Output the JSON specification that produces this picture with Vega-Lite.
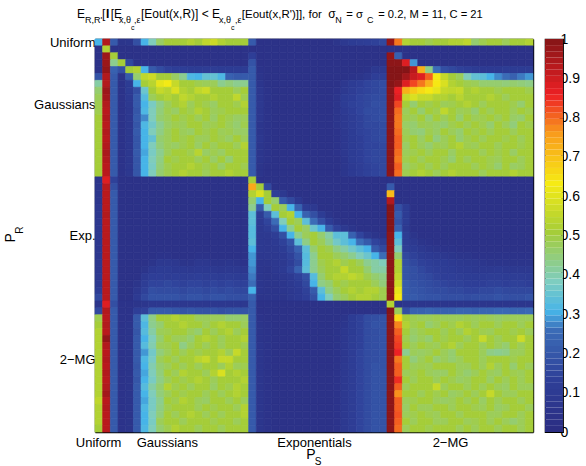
{"$schema":"https://vega.github.io/schema/vega-lite/v6.json","background":"white","padding":{"left":4,"top":7,"right":0,"bottom":0},
"config":{"font":"Liberation Sans","view":{"stroke":null},"axis":{"grid":false,"domainColor":"black","tickColor":"black","domainWidth":1.4,"tickWidth":1,"labelColor":"black","labelFont":"Liberation Sans","labelFontSize":13,"title":null}},
"datasets":{"cells":[
0.3,0.93,0.2,0.05,0.06,0.17,0.3,0.38,0.46,0.5,0.5,0.5,0.52,0.5,0.54,0.56,0.52,0.5,0.5,0.5,0.2,0.03,0.03,0.03,0.03,0.03,0.03,0.03,0.03,0.03,0.03,0.05,0.08,0.1,0.11,0.12,0.13,0.15,0.97,0.78,0.52,0.5,0.5,0.48,0.5,0.5,0.52,0.52,0.54,0.45,0.48,0.5,0.5,0.47,0.5,0.5,0.52,
0.03,0.52,0.03,0.03,0.03,0.03,0.03,0.03,0.03,0.03,0.03,0.03,0.03,0.03,0.03,0.03,0.03,0.03,0.03,0.03,0.03,0.03,0.03,0.03,0.03,0.03,0.03,0.03,0.03,0.03,0.03,0.03,0.03,0.03,0.03,0.03,0.03,0.03,0.03,0.03,0.03,0.03,0.03,0.03,0.03,0.03,0.03,0.03,0.03,0.03,0.03,0.03,0.03,0.03,0.03,0.03,0.03,
0.03,0.96,0.5,0.03,0.03,0.03,0.03,0.03,0.03,0.03,0.03,0.03,0.03,0.03,0.03,0.03,0.03,0.03,0.03,0.03,0.12,0.03,0.03,0.03,0.03,0.03,0.03,0.03,0.03,0.03,0.03,0.03,0.03,0.03,0.03,0.03,0.03,0.03,0.97,0.22,0.03,0.03,0.03,0.03,0.03,0.03,0.03,0.03,0.03,0.03,0.03,0.03,0.03,0.03,0.03,0.03,0.03,
0.03,0.96,0.42,0.5,0.15,0.04,0.04,0.03,0.03,0.03,0.03,0.03,0.03,0.03,0.03,0.03,0.03,0.03,0.03,0.03,0.18,0.03,0.03,0.03,0.03,0.03,0.03,0.03,0.03,0.03,0.03,0.03,0.03,0.03,0.03,0.03,0.03,0.03,0.98,0.98,0.87,0.28,0.03,0.03,0.03,0.03,0.03,0.03,0.03,0.03,0.03,0.03,0.03,0.03,0.03,0.03,0.03,
0.03,0.97,0.22,0.17,0.5,0.52,0.3,0.2,0.16,0.13,0.12,0.12,0.1,0.1,0.11,0.11,0.1,0.1,0.1,0.1,0.2,0.04,0.03,0.03,0.03,0.03,0.03,0.03,0.03,0.03,0.03,0.03,0.03,0.03,0.03,0.04,0.08,0.08,0.99,0.99,0.99,0.92,0.72,0.43,0.25,0.17,0.15,0.13,0.12,0.1,0.09,0.09,0.09,0.1,0.1,0.1,0.1,
0.18,0.93,0.2,0.04,0.2,0.45,0.54,0.56,0.5,0.5,0.46,0.42,0.31,0.3,0.34,0.34,0.31,0.22,0.2,0.2,0.2,0.05,0.03,0.03,0.03,0.03,0.03,0.03,0.03,0.03,0.03,0.03,0.03,0.04,0.05,0.07,0.12,0.12,0.99,0.99,0.95,0.9,0.87,0.8,0.62,0.55,0.5,0.47,0.38,0.34,0.33,0.3,0.27,0.25,0.22,0.26,0.28,
0.4,0.93,0.2,0.04,0.1,0.3,0.5,0.53,0.6,0.62,0.55,0.5,0.5,0.48,0.47,0.47,0.42,0.44,0.42,0.42,0.2,0.06,0.03,0.03,0.03,0.03,0.03,0.03,0.03,0.03,0.03,0.03,0.07,0.1,0.12,0.14,0.15,0.16,0.99,0.97,0.87,0.82,0.78,0.72,0.63,0.58,0.52,0.5,0.48,0.47,0.45,0.45,0.45,0.44,0.45,0.44,0.43,
0.45,0.96,0.2,0.04,0.1,0.17,0.35,0.5,0.55,0.53,0.58,0.52,0.5,0.54,0.56,0.5,0.5,0.5,0.47,0.5,0.2,0.07,0.04,0.03,0.03,0.03,0.03,0.03,0.03,0.03,0.03,0.04,0.08,0.11,0.13,0.14,0.15,0.16,0.98,0.85,0.72,0.68,0.65,0.63,0.6,0.55,0.54,0.55,0.5,0.52,0.5,0.5,0.48,0.5,0.5,0.5,0.48,
0.47,0.95,0.2,0.04,0.09,0.2,0.32,0.47,0.5,0.52,0.5,0.54,0.52,0.5,0.5,0.52,0.5,0.5,0.54,0.48,0.2,0.07,0.04,0.03,0.03,0.03,0.03,0.03,0.03,0.03,0.03,0.05,0.1,0.12,0.14,0.15,0.16,0.16,0.98,0.87,0.55,0.58,0.55,0.55,0.52,0.52,0.5,0.53,0.5,0.5,0.5,0.52,0.5,0.47,0.5,0.5,0.5,
0.48,0.93,0.2,0.04,0.08,0.2,0.3,0.37,0.43,0.47,0.5,0.52,0.47,0.5,0.48,0.46,0.5,0.5,0.48,0.52,0.2,0.08,0.04,0.03,0.03,0.03,0.03,0.03,0.03,0.03,0.03,0.05,0.1,0.13,0.14,0.15,0.17,0.17,0.98,0.82,0.5,0.45,0.5,0.48,0.5,0.47,0.48,0.5,0.52,0.5,0.47,0.5,0.5,0.5,0.48,0.45,0.5,
0.48,0.92,0.2,0.04,0.07,0.19,0.31,0.38,0.44,0.48,0.46,0.5,0.48,0.52,0.5,0.47,0.48,0.5,0.5,0.5,0.2,0.07,0.04,0.03,0.03,0.03,0.03,0.03,0.03,0.03,0.03,0.05,0.09,0.12,0.14,0.16,0.16,0.17,0.98,0.79,0.47,0.5,0.45,0.5,0.48,0.54,0.5,0.47,0.48,0.45,0.5,0.47,0.5,0.5,0.47,0.5,0.48,
0.5,0.93,0.2,0.04,0.07,0.2,0.27,0.38,0.45,0.47,0.5,0.48,0.5,0.47,0.5,0.46,0.5,0.48,0.46,0.47,0.2,0.07,0.04,0.03,0.03,0.03,0.03,0.03,0.03,0.03,0.03,0.05,0.08,0.11,0.13,0.15,0.16,0.17,0.98,0.78,0.48,0.47,0.5,0.45,0.5,0.47,0.5,0.45,0.5,0.47,0.48,0.5,0.47,0.5,0.46,0.45,0.5,
0.5,0.92,0.2,0.04,0.07,0.19,0.31,0.36,0.42,0.46,0.48,0.47,0.5,0.5,0.47,0.48,0.5,0.47,0.45,0.48,0.2,0.06,0.04,0.03,0.03,0.03,0.03,0.03,0.03,0.03,0.03,0.05,0.08,0.11,0.13,0.15,0.15,0.16,0.98,0.78,0.46,0.45,0.48,0.47,0.46,0.45,0.48,0.5,0.47,0.5,0.48,0.45,0.5,0.47,0.44,0.5,0.48,
0.5,0.93,0.2,0.04,0.07,0.2,0.3,0.38,0.43,0.47,0.5,0.47,0.46,0.5,0.48,0.5,0.47,0.48,0.46,0.46,0.2,0.06,0.04,0.03,0.03,0.03,0.03,0.03,0.03,0.03,0.03,0.04,0.07,0.1,0.13,0.14,0.15,0.16,0.98,0.79,0.47,0.45,0.44,0.48,0.46,0.5,0.47,0.45,0.5,0.48,0.5,0.47,0.5,0.5,0.47,0.5,0.5,
0.5,0.92,0.2,0.04,0.07,0.19,0.3,0.34,0.45,0.47,0.5,0.48,0.5,0.47,0.47,0.5,0.48,0.46,0.5,0.47,0.2,0.07,0.04,0.03,0.03,0.03,0.03,0.03,0.03,0.03,0.03,0.04,0.07,0.1,0.12,0.14,0.15,0.16,0.98,0.8,0.48,0.5,0.46,0.5,0.44,0.47,0.5,0.45,0.48,0.5,0.47,0.5,0.5,0.48,0.5,0.47,0.5,
0.5,0.93,0.2,0.04,0.07,0.19,0.3,0.38,0.44,0.47,0.46,0.48,0.5,0.46,0.5,0.47,0.5,0.5,0.47,0.52,0.2,0.06,0.04,0.03,0.03,0.03,0.03,0.03,0.03,0.03,0.03,0.04,0.07,0.1,0.12,0.14,0.14,0.15,0.98,0.8,0.46,0.5,0.47,0.45,0.48,0.47,0.5,0.52,0.48,0.47,0.5,0.5,0.47,0.5,0.5,0.48,0.5,
0.5,0.94,0.2,0.04,0.07,0.2,0.29,0.37,0.42,0.47,0.5,0.5,0.48,0.53,0.46,0.48,0.46,0.5,0.5,0.5,0.2,0.06,0.04,0.03,0.03,0.03,0.03,0.03,0.03,0.03,0.03,0.04,0.07,0.1,0.12,0.14,0.15,0.15,0.98,0.79,0.47,0.48,0.5,0.47,0.5,0.5,0.46,0.5,0.5,0.5,0.47,0.5,0.48,0.5,0.46,0.5,0.5,
0.5,0.93,0.2,0.04,0.07,0.19,0.3,0.38,0.43,0.5,0.48,0.5,0.5,0.47,0.5,0.46,0.5,0.45,0.5,0.5,0.2,0.06,0.04,0.03,0.03,0.03,0.03,0.03,0.03,0.03,0.03,0.03,0.06,0.1,0.12,0.14,0.15,0.15,0.98,0.78,0.48,0.5,0.47,0.5,0.5,0.48,0.45,0.5,0.47,0.5,0.5,0.48,0.47,0.5,0.5,0.47,0.5,
0.5,0.92,0.2,0.04,0.07,0.19,0.3,0.37,0.44,0.48,0.5,0.5,0.52,0.5,0.48,0.5,0.46,0.5,0.5,0.48,0.2,0.05,0.03,0.03,0.03,0.03,0.03,0.03,0.03,0.03,0.03,0.03,0.06,0.09,0.11,0.13,0.14,0.15,0.98,0.8,0.46,0.48,0.5,0.47,0.5,0.47,0.5,0.5,0.5,0.47,0.5,0.48,0.45,0.5,0.46,0.47,0.5,
0.5,0.92,0.2,0.04,0.07,0.19,0.3,0.38,0.45,0.48,0.5,0.52,0.5,0.5,0.47,0.5,0.5,0.52,0.5,0.5,0.2,0.05,0.03,0.03,0.03,0.03,0.03,0.03,0.03,0.03,0.03,0.03,0.06,0.09,0.11,0.13,0.14,0.15,0.98,0.79,0.48,0.5,0.52,0.5,0.47,0.5,0.52,0.5,0.5,0.5,0.47,0.5,0.5,0.5,0.52,0.5,0.5,
0.05,0.87,0.13,0.03,0.03,0.03,0.03,0.03,0.03,0.03,0.03,0.03,0.03,0.03,0.03,0.03,0.03,0.03,0.03,0.03,0.5,0.03,0.03,0.03,0.03,0.03,0.03,0.03,0.03,0.03,0.03,0.03,0.03,0.03,0.03,0.03,0.03,0.03,0.03,0.03,0.03,0.03,0.03,0.03,0.03,0.03,0.03,0.03,0.03,0.03,0.03,0.03,0.03,0.03,0.03,0.03,0.03,
0.06,0.92,0.17,0.03,0.03,0.03,0.03,0.03,0.03,0.03,0.03,0.03,0.03,0.03,0.03,0.03,0.03,0.03,0.03,0.03,0.73,0.5,0.15,0.03,0.03,0.03,0.03,0.03,0.03,0.03,0.03,0.03,0.03,0.03,0.03,0.03,0.03,0.03,0.2,0.03,0.03,0.03,0.03,0.03,0.03,0.03,0.03,0.03,0.03,0.03,0.03,0.03,0.03,0.03,0.03,0.03,0.03,
0.06,0.92,0.2,0.03,0.03,0.03,0.03,0.03,0.03,0.03,0.03,0.03,0.03,0.03,0.03,0.03,0.03,0.03,0.03,0.03,0.52,0.58,0.5,0.12,0.08,0.03,0.03,0.03,0.03,0.03,0.03,0.03,0.03,0.03,0.03,0.03,0.03,0.03,0.7,0.03,0.03,0.03,0.03,0.03,0.03,0.03,0.03,0.03,0.03,0.03,0.03,0.03,0.03,0.03,0.03,0.03,0.03,
0.06,0.92,0.2,0.03,0.03,0.03,0.03,0.03,0.03,0.03,0.03,0.03,0.03,0.03,0.03,0.03,0.03,0.03,0.03,0.03,0.45,0.3,0.5,0.45,0.2,0.15,0.08,0.03,0.03,0.03,0.03,0.03,0.03,0.03,0.03,0.03,0.03,0.03,0.93,0.03,0.03,0.03,0.03,0.03,0.03,0.03,0.03,0.03,0.03,0.03,0.03,0.03,0.03,0.03,0.03,0.03,0.03,
0.07,0.92,0.2,0.03,0.03,0.03,0.03,0.03,0.03,0.03,0.03,0.03,0.03,0.03,0.03,0.03,0.03,0.03,0.03,0.03,0.42,0.2,0.38,0.5,0.47,0.3,0.22,0.1,0.08,0.03,0.03,0.03,0.03,0.03,0.03,0.03,0.03,0.03,0.99,0.17,0.1,0.03,0.03,0.03,0.03,0.03,0.03,0.03,0.03,0.03,0.03,0.03,0.03,0.03,0.03,0.03,0.03,
0.07,0.93,0.2,0.03,0.03,0.03,0.03,0.03,0.03,0.03,0.03,0.03,0.03,0.03,0.03,0.03,0.03,0.03,0.03,0.03,0.33,0.1,0.2,0.33,0.5,0.52,0.3,0.22,0.17,0.1,0.05,0.03,0.03,0.03,0.03,0.03,0.03,0.03,0.99,0.2,0.1,0.03,0.03,0.03,0.03,0.03,0.03,0.03,0.03,0.03,0.03,0.03,0.03,0.03,0.03,0.03,0.03,
0.07,0.92,0.2,0.03,0.03,0.03,0.03,0.03,0.03,0.03,0.03,0.03,0.03,0.03,0.03,0.03,0.03,0.03,0.03,0.03,0.33,0.09,0.14,0.25,0.38,0.5,0.47,0.33,0.25,0.17,0.1,0.05,0.03,0.03,0.03,0.03,0.03,0.03,0.99,0.18,0.1,0.03,0.03,0.03,0.03,0.03,0.03,0.03,0.03,0.03,0.03,0.03,0.03,0.03,0.03,0.03,0.03,
0.07,0.92,0.2,0.03,0.03,0.03,0.03,0.03,0.03,0.03,0.03,0.03,0.03,0.03,0.03,0.03,0.03,0.03,0.03,0.03,0.32,0.08,0.11,0.17,0.3,0.42,0.5,0.46,0.35,0.3,0.2,0.13,0.08,0.05,0.03,0.03,0.03,0.03,0.99,0.22,0.08,0.03,0.03,0.03,0.03,0.03,0.03,0.03,0.03,0.03,0.03,0.03,0.03,0.03,0.03,0.03,0.03,
0.07,0.92,0.2,0.03,0.03,0.03,0.03,0.03,0.03,0.03,0.03,0.03,0.03,0.03,0.03,0.03,0.03,0.03,0.03,0.03,0.32,0.08,0.08,0.11,0.17,0.3,0.42,0.47,0.5,0.45,0.4,0.33,0.33,0.22,0.14,0.08,0.05,0.03,0.98,0.3,0.1,0.05,0.03,0.03,0.03,0.03,0.03,0.03,0.03,0.03,0.03,0.03,0.03,0.03,0.03,0.03,0.03,
0.07,0.92,0.2,0.03,0.03,0.03,0.03,0.03,0.03,0.03,0.03,0.03,0.03,0.03,0.03,0.03,0.03,0.03,0.03,0.03,0.33,0.08,0.07,0.09,0.13,0.18,0.33,0.43,0.5,0.47,0.42,0.36,0.33,0.3,0.25,0.2,0.14,0.1,0.98,0.33,0.1,0.08,0.05,0.04,0.03,0.03,0.03,0.03,0.03,0.03,0.03,0.03,0.03,0.03,0.03,0.03,0.03,
0.07,0.92,0.2,0.03,0.03,0.03,0.03,0.03,0.03,0.03,0.03,0.03,0.03,0.03,0.03,0.03,0.03,0.03,0.03,0.03,0.3,0.08,0.07,0.08,0.1,0.15,0.22,0.33,0.45,0.5,0.48,0.43,0.4,0.36,0.33,0.3,0.2,0.15,0.98,0.38,0.12,0.1,0.08,0.06,0.05,0.04,0.04,0.03,0.03,0.03,0.03,0.03,0.03,0.03,0.03,0.03,0.03,
0.07,0.92,0.2,0.03,0.03,0.03,0.03,0.03,0.04,0.04,0.03,0.03,0.03,0.04,0.04,0.03,0.03,0.03,0.03,0.03,0.28,0.07,0.07,0.07,0.09,0.13,0.18,0.32,0.42,0.5,0.5,0.47,0.45,0.42,0.38,0.35,0.3,0.25,0.98,0.45,0.15,0.13,0.1,0.09,0.08,0.07,0.06,0.05,0.05,0.04,0.04,0.04,0.04,0.04,0.04,0.04,0.04,
0.07,0.92,0.2,0.03,0.03,0.03,0.03,0.05,0.08,0.08,0.07,0.05,0.05,0.07,0.07,0.05,0.05,0.06,0.05,0.04,0.28,0.06,0.06,0.07,0.08,0.12,0.16,0.32,0.42,0.48,0.5,0.52,0.48,0.5,0.47,0.42,0.4,0.38,0.98,0.52,0.17,0.15,0.13,0.12,0.1,0.1,0.09,0.08,0.07,0.07,0.06,0.05,0.05,0.05,0.05,0.05,0.05,
0.07,0.92,0.2,0.03,0.03,0.03,0.05,0.09,0.1,0.1,0.09,0.09,0.08,0.09,0.09,0.08,0.07,0.08,0.08,0.07,0.27,0.06,0.05,0.07,0.09,0.14,0.22,0.33,0.42,0.47,0.5,0.5,0.55,0.5,0.5,0.45,0.4,0.4,0.98,0.52,0.18,0.17,0.15,0.13,0.12,0.11,0.1,0.09,0.09,0.08,0.08,0.08,0.09,0.08,0.08,0.08,0.08,
0.08,0.92,0.2,0.03,0.03,0.03,0.09,0.12,0.12,0.11,0.12,0.11,0.11,0.12,0.11,0.11,0.1,0.11,0.1,0.1,0.26,0.06,0.05,0.06,0.07,0.09,0.13,0.17,0.32,0.45,0.5,0.52,0.52,0.54,0.52,0.48,0.45,0.43,0.98,0.54,0.18,0.17,0.16,0.15,0.13,0.12,0.12,0.11,0.1,0.1,0.1,0.11,0.11,0.1,0.11,0.11,0.1,
0.08,0.92,0.2,0.03,0.03,0.05,0.11,0.14,0.14,0.15,0.14,0.13,0.14,0.14,0.13,0.14,0.13,0.14,0.13,0.13,0.25,0.06,0.05,0.05,0.06,0.08,0.1,0.15,0.3,0.43,0.45,0.5,0.48,0.5,0.5,0.5,0.47,0.44,0.98,0.56,0.2,0.18,0.17,0.16,0.15,0.14,0.13,0.13,0.12,0.12,0.12,0.13,0.13,0.12,0.13,0.13,0.12,
0.1,0.92,0.2,0.03,0.03,0.07,0.13,0.17,0.16,0.16,0.16,0.15,0.16,0.16,0.15,0.16,0.15,0.16,0.15,0.15,0.3,0.06,0.05,0.05,0.06,0.07,0.09,0.13,0.2,0.33,0.43,0.47,0.5,0.52,0.5,0.52,0.52,0.48,0.98,0.6,0.2,0.19,0.18,0.17,0.16,0.16,0.15,0.15,0.14,0.14,0.15,0.15,0.16,0.15,0.15,0.15,0.15,
0.15,0.92,0.2,0.03,0.03,0.09,0.15,0.18,0.18,0.18,0.18,0.17,0.18,0.18,0.17,0.18,0.18,0.17,0.17,0.17,0.22,0.05,0.05,0.05,0.05,0.07,0.09,0.12,0.17,0.3,0.38,0.45,0.47,0.5,0.52,0.52,0.5,0.48,0.98,0.63,0.2,0.2,0.19,0.18,0.18,0.17,0.17,0.17,0.16,0.17,0.17,0.17,0.18,0.17,0.17,0.17,0.18,
0.05,0.87,0.17,0.04,0.04,0.05,0.06,0.07,0.07,0.07,0.07,0.07,0.07,0.07,0.07,0.07,0.07,0.07,0.07,0.07,0.2,0.03,0.03,0.03,0.03,0.03,0.03,0.03,0.03,0.03,0.03,0.03,0.03,0.03,0.03,0.03,0.03,0.03,0.52,0.04,0.06,0.06,0.06,0.06,0.06,0.06,0.06,0.06,0.06,0.06,0.06,0.06,0.06,0.06,0.06,0.06,0.06,
0.15,0.93,0.2,0.04,0.04,0.12,0.13,0.2,0.2,0.2,0.19,0.18,0.19,0.18,0.18,0.18,0.17,0.18,0.18,0.18,0.2,0.03,0.03,0.03,0.03,0.03,0.03,0.03,0.03,0.03,0.03,0.03,0.03,0.03,0.03,0.03,0.03,0.03,0.99,0.47,0.17,0.22,0.22,0.23,0.22,0.22,0.22,0.23,0.23,0.22,0.23,0.23,0.24,0.24,0.23,0.23,0.24,
0.48,0.92,0.2,0.04,0.04,0.2,0.33,0.43,0.5,0.5,0.52,0.5,0.5,0.47,0.47,0.47,0.47,0.45,0.45,0.46,0.2,0.04,0.03,0.03,0.03,0.03,0.03,0.03,0.03,0.03,0.03,0.03,0.05,0.1,0.13,0.16,0.17,0.18,0.98,0.65,0.5,0.48,0.47,0.47,0.48,0.47,0.47,0.47,0.48,0.47,0.48,0.47,0.46,0.47,0.47,0.47,0.47,
0.5,0.93,0.2,0.04,0.05,0.2,0.31,0.42,0.45,0.5,0.5,0.52,0.5,0.5,0.47,0.5,0.52,0.5,0.5,0.47,0.2,0.05,0.04,0.03,0.03,0.03,0.03,0.03,0.03,0.03,0.03,0.04,0.06,0.1,0.13,0.16,0.18,0.18,0.98,0.77,0.52,0.48,0.5,0.45,0.47,0.5,0.48,0.52,0.5,0.47,0.5,0.5,0.47,0.5,0.5,0.47,0.5,
0.52,0.92,0.2,0.04,0.05,0.19,0.32,0.4,0.47,0.48,0.5,0.5,0.47,0.45,0.5,0.47,0.5,0.52,0.47,0.5,0.2,0.05,0.04,0.03,0.03,0.03,0.03,0.03,0.03,0.03,0.03,0.04,0.07,0.1,0.13,0.16,0.17,0.18,0.98,0.8,0.5,0.46,0.48,0.5,0.5,0.47,0.5,0.47,0.52,0.5,0.48,0.47,0.5,0.5,0.48,0.5,0.47,
0.52,0.97,0.2,0.04,0.05,0.2,0.3,0.38,0.45,0.5,0.47,0.47,0.45,0.5,0.52,0.5,0.47,0.5,0.5,0.52,0.2,0.05,0.04,0.03,0.03,0.03,0.03,0.03,0.03,0.03,0.03,0.04,0.07,0.11,0.13,0.16,0.17,0.18,0.98,0.82,0.48,0.45,0.47,0.45,0.5,0.48,0.5,0.5,0.47,0.5,0.55,0.5,0.47,0.5,0.5,0.56,0.5,
0.52,0.93,0.2,0.04,0.05,0.2,0.32,0.39,0.47,0.48,0.5,0.43,0.47,0.5,0.47,0.5,0.47,0.5,0.5,0.48,0.2,0.06,0.04,0.03,0.03,0.03,0.03,0.03,0.03,0.03,0.03,0.04,0.07,0.11,0.13,0.16,0.17,0.18,0.98,0.83,0.5,0.47,0.5,0.48,0.47,0.5,0.52,0.47,0.5,0.5,0.47,0.5,0.47,0.45,0.5,0.47,0.5,
0.52,0.92,0.2,0.04,0.05,0.2,0.28,0.36,0.44,0.47,0.5,0.47,0.5,0.48,0.5,0.5,0.52,0.47,0.55,0.5,0.2,0.06,0.04,0.03,0.03,0.03,0.03,0.03,0.03,0.03,0.03,0.04,0.07,0.11,0.14,0.16,0.17,0.18,0.98,0.85,0.42,0.47,0.46,0.47,0.5,0.47,0.45,0.5,0.5,0.5,0.47,0.43,0.42,0.43,0.47,0.47,0.5,
0.52,0.93,0.2,0.04,0.05,0.2,0.31,0.37,0.47,0.5,0.47,0.5,0.5,0.53,0.55,0.5,0.55,0.55,0.5,0.5,0.2,0.06,0.04,0.03,0.03,0.03,0.03,0.03,0.03,0.03,0.03,0.04,0.07,0.11,0.14,0.16,0.17,0.18,0.98,0.78,0.5,0.44,0.47,0.5,0.45,0.47,0.45,0.47,0.5,0.5,0.47,0.5,0.5,0.5,0.48,0.5,0.5,
0.52,0.92,0.2,0.04,0.05,0.19,0.3,0.39,0.45,0.47,0.5,0.47,0.5,0.47,0.5,0.5,0.47,0.52,0.47,0.48,0.2,0.06,0.04,0.03,0.03,0.03,0.03,0.03,0.03,0.03,0.03,0.04,0.08,0.11,0.14,0.16,0.18,0.18,0.98,0.8,0.5,0.47,0.48,0.47,0.5,0.5,0.5,0.47,0.47,0.5,0.47,0.52,0.47,0.5,0.45,0.5,0.47,
0.52,0.93,0.2,0.04,0.05,0.2,0.29,0.38,0.44,0.5,0.47,0.52,0.5,0.5,0.47,0.52,0.58,0.5,0.52,0.5,0.2,0.06,0.04,0.03,0.03,0.03,0.03,0.03,0.03,0.03,0.03,0.04,0.08,0.11,0.14,0.16,0.18,0.18,0.98,0.8,0.47,0.48,0.5,0.47,0.46,0.46,0.5,0.47,0.45,0.47,0.5,0.47,0.46,0.5,0.48,0.47,0.5,
0.52,0.92,0.2,0.04,0.05,0.19,0.3,0.37,0.43,0.47,0.5,0.48,0.5,0.52,0.5,0.47,0.5,0.5,0.5,0.52,0.2,0.06,0.04,0.03,0.03,0.03,0.03,0.03,0.03,0.03,0.03,0.04,0.08,0.11,0.14,0.16,0.18,0.18,0.98,0.84,0.5,0.47,0.5,0.5,0.47,0.5,0.48,0.46,0.47,0.5,0.5,0.46,0.5,0.47,0.5,0.47,0.5,
0.52,0.93,0.2,0.04,0.05,0.2,0.32,0.4,0.45,0.52,0.48,0.5,0.47,0.5,0.5,0.46,0.5,0.48,0.52,0.5,0.2,0.06,0.04,0.03,0.03,0.03,0.03,0.03,0.03,0.03,0.03,0.04,0.08,0.11,0.14,0.16,0.18,0.18,0.98,0.8,0.47,0.5,0.5,0.5,0.55,0.47,0.5,0.5,0.47,0.5,0.47,0.5,0.47,0.46,0.5,0.47,0.47,
0.52,0.95,0.2,0.04,0.05,0.2,0.3,0.38,0.44,0.47,0.5,0.48,0.5,0.5,0.47,0.5,0.47,0.5,0.52,0.5,0.2,0.06,0.04,0.03,0.03,0.03,0.03,0.03,0.03,0.03,0.03,0.04,0.08,0.11,0.14,0.16,0.18,0.18,0.98,0.76,0.5,0.5,0.47,0.5,0.48,0.5,0.46,0.47,0.5,0.47,0.5,0.55,0.5,0.47,0.47,0.5,0.5,
0.54,0.92,0.2,0.04,0.05,0.2,0.29,0.37,0.42,0.5,0.48,0.52,0.5,0.47,0.46,0.5,0.5,0.47,0.5,0.47,0.2,0.06,0.04,0.03,0.03,0.03,0.03,0.03,0.03,0.03,0.03,0.04,0.08,0.11,0.14,0.16,0.18,0.18,0.98,0.8,0.47,0.48,0.5,0.5,0.47,0.46,0.47,0.5,0.47,0.5,0.46,0.5,0.47,0.5,0.5,0.47,0.5,
0.52,0.93,0.2,0.04,0.05,0.2,0.31,0.37,0.43,0.48,0.5,0.5,0.5,0.47,0.5,0.48,0.5,0.5,0.47,0.52,0.2,0.06,0.04,0.03,0.03,0.03,0.03,0.03,0.03,0.03,0.03,0.04,0.08,0.11,0.14,0.16,0.18,0.18,0.98,0.8,0.46,0.5,0.47,0.47,0.5,0.5,0.47,0.5,0.5,0.48,0.47,0.5,0.46,0.47,0.5,0.5,0.47,
0.52,0.92,0.2,0.04,0.05,0.2,0.3,0.38,0.44,0.5,0.47,0.5,0.52,0.5,0.47,0.5,0.47,0.5,0.5,0.52,0.2,0.06,0.04,0.03,0.03,0.03,0.03,0.03,0.03,0.03,0.03,0.04,0.08,0.11,0.14,0.16,0.18,0.18,0.98,0.81,0.47,0.48,0.5,0.48,0.47,0.5,0.5,0.47,0.5,0.5,0.5,0.47,0.47,0.5,0.5,0.47,0.5,
0.52,0.92,0.2,0.04,0.05,0.2,0.3,0.37,0.47,0.5,0.5,0.47,0.5,0.5,0.5,0.48,0.5,0.5,0.47,0.5,0.2,0.06,0.04,0.03,0.03,0.03,0.03,0.03,0.03,0.03,0.03,0.04,0.08,0.11,0.14,0.16,0.18,0.18,0.98,0.8,0.5,0.47,0.5,0.5,0.47,0.47,0.5,0.5,0.47,0.48,0.5,0.47,0.5,0.47,0.45,0.47,0.5,
0.5,0.92,0.2,0.04,0.05,0.2,0.31,0.38,0.45,0.48,0.52,0.5,0.5,0.47,0.5,0.5,0.47,0.5,0.5,0.5,0.2,0.06,0.04,0.03,0.03,0.03,0.03,0.03,0.03,0.03,0.03,0.04,0.08,0.11,0.14,0.16,0.18,0.18,0.98,0.79,0.47,0.5,0.5,0.48,0.5,0.5,0.5,0.47,0.5,0.47,0.5,0.5,0.47,0.5,0.5,0.47,0.5],
"bar":[{"lo":0,"hi":0.0156},{"lo":0.0156,"hi":0.0313},{"lo":0.0313,"hi":0.0469},{"lo":0.0469,"hi":0.0625},{"lo":0.0625,"hi":0.0781},{"lo":0.0781,"hi":0.0938},{"lo":0.0938,"hi":0.1094},{"lo":0.1094,"hi":0.125},{"lo":0.125,"hi":0.1406},{"lo":0.1406,"hi":0.1563},{"lo":0.1563,"hi":0.1719},{"lo":0.1719,"hi":0.1875},{"lo":0.1875,"hi":0.2031},{"lo":0.2031,"hi":0.2188},{"lo":0.2188,"hi":0.2344},{"lo":0.2344,"hi":0.25},{"lo":0.25,"hi":0.2656},{"lo":0.2656,"hi":0.2813},{"lo":0.2813,"hi":0.2969},{"lo":0.2969,"hi":0.3125},{"lo":0.3125,"hi":0.3281},{"lo":0.3281,"hi":0.3438},{"lo":0.3438,"hi":0.3594},{"lo":0.3594,"hi":0.375},{"lo":0.375,"hi":0.3906},{"lo":0.3906,"hi":0.4063},{"lo":0.4063,"hi":0.4219},{"lo":0.4219,"hi":0.4375},{"lo":0.4375,"hi":0.4531},{"lo":0.4531,"hi":0.4688},{"lo":0.4688,"hi":0.4844},{"lo":0.4844,"hi":0.5},{"lo":0.5,"hi":0.5156},{"lo":0.5156,"hi":0.5313},{"lo":0.5313,"hi":0.5469},{"lo":0.5469,"hi":0.5625},{"lo":0.5625,"hi":0.5781},{"lo":0.5781,"hi":0.5938},{"lo":0.5938,"hi":0.6094},{"lo":0.6094,"hi":0.625},{"lo":0.625,"hi":0.6406},{"lo":0.6406,"hi":0.6563},{"lo":0.6563,"hi":0.6719},{"lo":0.6719,"hi":0.6875},{"lo":0.6875,"hi":0.7031},{"lo":0.7031,"hi":0.7188},{"lo":0.7188,"hi":0.7344},{"lo":0.7344,"hi":0.75},{"lo":0.75,"hi":0.7656},{"lo":0.7656,"hi":0.7813},{"lo":0.7813,"hi":0.7969},{"lo":0.7969,"hi":0.8125},{"lo":0.8125,"hi":0.8281},{"lo":0.8281,"hi":0.8438},{"lo":0.8438,"hi":0.8594},{"lo":0.8594,"hi":0.875},{"lo":0.875,"hi":0.8906},{"lo":0.8906,"hi":0.9063},{"lo":0.9063,"hi":0.9219},{"lo":0.9219,"hi":0.9375},{"lo":0.9375,"hi":0.9531},{"lo":0.9531,"hi":0.9688},{"lo":0.9688,"hi":0.9844},{"lo":0.9844,"hi":1}]},
"bounds":"flush","spacing":12,
"hconcat":[
{"width":438,"height":393,"resolve":{"axis":{"x":"independent","y":"independent"}},"layer":[
{"data":{"name":"cells"},"transform":[{"window":[{"op":"row_number","as":"i"}]},{"calculate":"(datum.i-1)%57","as":"c"},{"calculate":"datum.c+1","as":"c1"},{"calculate":"floor((datum.i-1)/57)","as":"r"},{"calculate":"datum.r+1","as":"r1"}],
"mark":{"type":"rect","strokeWidth":0.7},
"encoding":{"x":{"field":"c","type":"quantitative","scale":{"domain":[0,57],"nice":false,"zero":false},"axis":{"orient":"bottom","values":[0.4,9.35,28.5,46.2],"labelExpr":"datum.value<1?'Uniform':datum.value<10?'Gaussians':datum.value<30?'Exponentials':'2−MG'","tickSize":-4,"labelPadding":8}},"x2":{"field":"c1"},
"y":{"field":"r","type":"quantitative","scale":{"domain":[57,0],"nice":false,"zero":false},"axis":{"orient":"left","values":[0.5,9.5,28.55,46.5],"labelExpr":"datum.value<1?'Uniform':datum.value<10?'Gaussians':datum.value<30?'Exp.':'2−MG'","tickSize":-4,"labelPadding":4}},"y2":{"field":"r1"},
"color":{"field":"data","type":"quantitative","legend":null,"scale":{"interpolate":"rgb","domain":[0,0.125,0.25,0.3,0.375,0.5,0.625,0.75,0.85,1],"range":["#2b2e83","#2e3f98","#3b6cb7","#47b4e8","#7ecdc0","#a5cd39","#f6eb14","#f99d1c","#ed2024","#7e1416"]}},
"stroke":{"field":"data","type":"quantitative","legend":null,"scale":{"interpolate":"rgb","domain":[0,0.125,0.25,0.3,0.375,0.5,0.625,0.75,0.85,1],"range":["#2b2e83","#2e3f98","#3b6cb7","#47b4e8","#7ecdc0","#a5cd39","#f6eb14","#f99d1c","#ed2024","#7e1416"]}}}},
{"data":{"values":[{}]},"mark":{"type":"rule","opacity":0},"encoding":{"x":{"datum":0,"type":"quantitative","axis":{"orient":"top","values":[0.4,9.35,28.5,46.2],"labels":false,"tickSize":-4}},"y":{"datum":0,"type":"quantitative","axis":{"orient":"right","values":[0.5,9.5,28.55,46.5],"labels":false,"tickSize":-4}}}},
{"data":{"values":[{}]},"mark":{"type":"text","align":"left","baseline":"alphabetic","fontSize":14},"encoding":{"x":{"datum":27.5,"type":"quantitative","axis":null},"y":{"datum":60.9,"type":"quantitative","axis":null},"text":{"value":"P"}}},
{"data":{"values":[{}]},"mark":{"type":"text","align":"left","baseline":"alphabetic","fontSize":10},"encoding":{"x":{"datum":28.6,"type":"quantitative","axis":null},"y":{"datum":61.8,"type":"quantitative","axis":null},"text":{"value":"S"}}},
{"data":{"values":[{}]},"mark":{"type":"text","align":"left","baseline":"alphabetic","fontSize":14,"angle":270},"encoding":{"x":{"datum":-10.35,"type":"quantitative","axis":null},"y":{"datum":29.5,"type":"quantitative","axis":null},"text":{"value":"P"}}},
{"data":{"values":[{}]},"mark":{"type":"text","align":"left","baseline":"alphabetic","fontSize":10,"angle":270},"encoding":{"x":{"datum":-9.4,"type":"quantitative","axis":null},"y":{"datum":28.26,"type":"quantitative","axis":null},"text":{"value":"R"}}},
{"data":{"values":[{}]},"mark":{"type":"text","align":"left","baseline":"alphabetic","fontSize":12},"encoding":{"x":{"datum":-2.34,"type":"quantitative","axis":null},"y":{"datum":-3.09,"type":"quantitative","axis":null},"text":{"value":"E"}}},
{"data":{"values":[{}]},"mark":{"type":"text","align":"left","baseline":"alphabetic","fontSize":9},"encoding":{"x":{"datum":-1.3,"type":"quantitative","axis":null},"y":{"datum":-2.3,"type":"quantitative","axis":null},"text":{"value":"R,R'"}}},
{"data":{"values":[{}]},"mark":{"type":"text","align":"left","baseline":"alphabetic","fontSize":12},"encoding":{"x":{"datum":0.91,"type":"quantitative","axis":null},"y":{"datum":-3.09,"type":"quantitative","axis":null},"text":{"value":"["}}},
{"data":{"values":[{}]},"mark":{"type":"text","align":"left","baseline":"alphabetic","fontSize":12,"fontWeight":"bold"},"encoding":{"x":{"datum":1.43,"type":"quantitative","axis":null},"y":{"datum":-3.09,"type":"quantitative","axis":null},"text":{"value":"I"}}},
{"data":{"values":[{}]},"mark":{"type":"text","align":"left","baseline":"alphabetic","fontSize":12},"encoding":{"x":{"datum":2.04,"type":"quantitative","axis":null},"y":{"datum":-3.09,"type":"quantitative","axis":null},"text":{"value":"[E"}}},
{"data":{"values":[{}]},"mark":{"type":"text","align":"left","baseline":"alphabetic","fontSize":9},"encoding":{"x":{"datum":3.12,"type":"quantitative","axis":null},"y":{"datum":-2.3,"type":"quantitative","axis":null},"text":{"value":"x,θ"}}},
{"data":{"values":[{}]},"mark":{"type":"text","align":"left","baseline":"alphabetic","fontSize":7},"encoding":{"x":{"datum":4.69,"type":"quantitative","axis":null},"y":{"datum":-1.35,"type":"quantitative","axis":null},"text":{"value":"c"}}},
{"data":{"values":[{}]},"mark":{"type":"text","align":"left","baseline":"alphabetic","fontSize":9},"encoding":{"x":{"datum":5.08,"type":"quantitative","axis":null},"y":{"datum":-2.3,"type":"quantitative","axis":null},"text":{"value":",ε"}}},
{"data":{"values":[{}]},"mark":{"type":"text","align":"left","baseline":"alphabetic","fontSize":12},"encoding":{"x":{"datum":5.99,"type":"quantitative","axis":null},"y":{"datum":-3.09,"type":"quantitative","axis":null},"text":{"value":"[Eout(x,R)] < E"}}},
{"data":{"values":[{}]},"mark":{"type":"text","align":"left","baseline":"alphabetic","fontSize":9},"encoding":{"x":{"datum":16.15,"type":"quantitative","axis":null},"y":{"datum":-2.3,"type":"quantitative","axis":null},"text":{"value":"x,θ"}}},
{"data":{"values":[{}]},"mark":{"type":"text","align":"left","baseline":"alphabetic","fontSize":7},"encoding":{"x":{"datum":17.71,"type":"quantitative","axis":null},"y":{"datum":-1.35,"type":"quantitative","axis":null},"text":{"value":"c"}}},
{"data":{"values":[{}]},"mark":{"type":"text","align":"left","baseline":"alphabetic","fontSize":9},"encoding":{"x":{"datum":18.23,"type":"quantitative","axis":null},"y":{"datum":-2.3,"type":"quantitative","axis":null},"text":{"value":",ε"}}},
{"data":{"values":[{}]},"mark":{"type":"text","align":"left","baseline":"alphabetic","fontSize":11.5},"encoding":{"x":{"datum":19.1,"type":"quantitative","axis":null},"y":{"datum":-3.09,"type":"quantitative","axis":null},"text":{"value":"[Eout(x,R')]], for"}}},
{"data":{"values":[{}]},"mark":{"type":"text","align":"left","baseline":"alphabetic","fontSize":12},"encoding":{"x":{"datum":30.35,"type":"quantitative","axis":null},"y":{"datum":-3.09,"type":"quantitative","axis":null},"text":{"value":"σ"}}},
{"data":{"values":[{}]},"mark":{"type":"text","align":"left","baseline":"alphabetic","fontSize":9},"encoding":{"x":{"datum":31.25,"type":"quantitative","axis":null},"y":{"datum":-2.3,"type":"quantitative","axis":null},"text":{"value":"N"}}},
{"data":{"values":[{}]},"mark":{"type":"text","align":"left","baseline":"alphabetic","fontSize":11.3},"encoding":{"x":{"datum":32.7,"type":"quantitative","axis":null},"y":{"datum":-3.09,"type":"quantitative","axis":null},"text":{"value":"= σ"}}},
{"data":{"values":[{}]},"mark":{"type":"text","align":"left","baseline":"alphabetic","fontSize":9},"encoding":{"x":{"datum":35.4,"type":"quantitative","axis":null},"y":{"datum":-2.3,"type":"quantitative","axis":null},"text":{"value":"C"}}},
{"data":{"values":[{}]},"mark":{"type":"text","align":"left","baseline":"alphabetic","fontSize":11.2},"encoding":{"x":{"datum":36.85,"type":"quantitative","axis":null},"y":{"datum":-3.09,"type":"quantitative","axis":null},"text":{"value":"= 0.2, M = 11, C = 21"}}}
]},
{"width":18,"height":393,"view":{"stroke":"black","strokeWidth":1.2},"data":{"name":"bar"},"mark":{"type":"rect"},"encoding":{"x":{"datum":0,"type":"quantitative","scale":{"domain":[0,1]},"axis":null},"x2":{"datum":1},"y":{"field":"lo","type":"quantitative","scale":{"domain":[0,1],"nice":false},"axis":{"orient":"right","values":[0,0.1,0.2,0.3,0.4,0.5,0.6,0.7,0.8,0.9,1],"labelExpr":"datum.value","tickSize":-4,"labelPadding":1,"domain":false,"labelFontSize":14}},"y2":{"field":"hi"},"color":{"field":"lo","type":"quantitative","legend":null,"scale":{"interpolate":"rgb","domain":[0,0.125,0.25,0.3,0.375,0.5,0.625,0.75,0.85,1],"range":["#2b2e83","#2e3f98","#3b6cb7","#47b4e8","#7ecdc0","#a5cd39","#f6eb14","#f99d1c","#ed2024","#7e1416"]}}}}
]}
